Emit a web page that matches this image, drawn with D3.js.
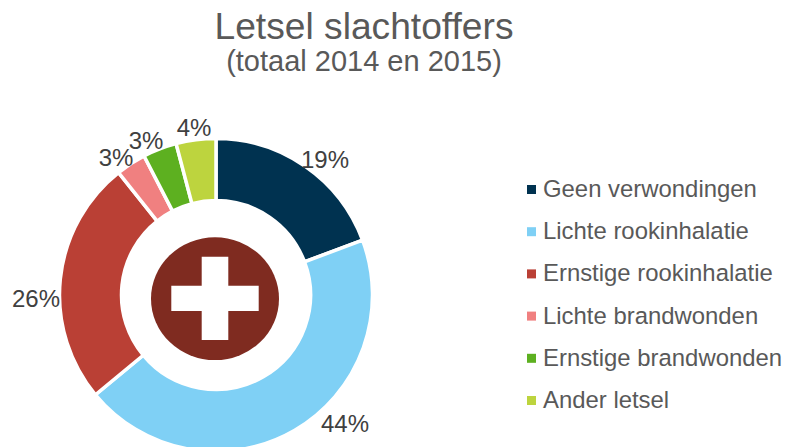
<!DOCTYPE html>
<html><head><meta charset="utf-8">
<script src="https://cdn.jsdelivr.net/npm/d3@7"></script>
<style>html,body{margin:0;padding:0;background:#fff}svg{display:block}text{font-family:"Liberation Sans",Arial,sans-serif;fill:#595959}</style>
</head><body><svg id="c" width="785" height="447"></svg>
<script>
const categories=["Geen verwondingen","Lichte rookinhalatie","Ernstige rookinhalatie","Lichte brandwonden","Ernstige brandwonden","Ander letsel"];
const values=[19.3,44.7,25.3,3.1,3.5,4.1];
const labels=["19%","44%","26%","3%","3%","4%"];
const colors=["#003250","#7FD0F5","#BA4035","#F08080","#5DB020","#BDD43E"];
const labelOffsets=[[325,160],[345,424],[36,299],[116,158],[146,141],[194,128]];
const svg=d3.select("#c");
const cx=216,cy=295,ro=156.5,ri=94.5;
svg.append("text").attr("x",364).attr("y",39).attr("text-anchor","middle").attr("font-size",37.2).text("Letsel slachtoffers");
svg.append("text").attr("x",364).attr("y",71).attr("text-anchor","middle").attr("font-size",29).text("(totaal 2014 en 2015)");
const pie=d3.pie().sort(null).value(d=>d)(values);
const arc=d3.arc().innerRadius(ri).outerRadius(ro);
const g=svg.append("g").attr("transform",`translate(${cx},${cy})`);
g.selectAll("path").data(pie).join("path").attr("d",arc).attr("fill",(d,i)=>colors[i]).attr("stroke","#fff").attr("stroke-width",3.5);
const badge=svg.append("g").attr("transform",`translate(215,298.7)`);
badge.append("ellipse").attr("rx",64).attr("ry",61.4).attr("fill","#7F2B20");
badge.append("path").attr("d","M-13.3,-42H13.3V-13H43.7V12.3H13.3V41.3H-13.3V12.3H-43.7V-13H-13.3Z").attr("fill","#fff");
svg.selectAll("text.l").data(labels).join("text").attr("class","l").attr("text-anchor","middle").attr("font-size",24).style("fill","#404040")
 .attr("x",(d,i)=>labelOffsets[i][0]).attr("y",(d,i)=>labelOffsets[i][1]+8).text(d=>d);
const y=d3.scalePoint().domain(categories).range([189,400]);
const lg=svg.selectAll("g.lg").data(categories).join("g").attr("class","lg").attr("transform",d=>`translate(527,${y(d)})`);
lg.append("rect").attr("x",0).attr("y",-4).attr("width",9).attr("height",9).attr("fill",(d,i)=>colors[i]);
lg.append("text").attr("x",16).attr("y",8).attr("font-size",23.9).text(d=>d);
</script></body></html>
